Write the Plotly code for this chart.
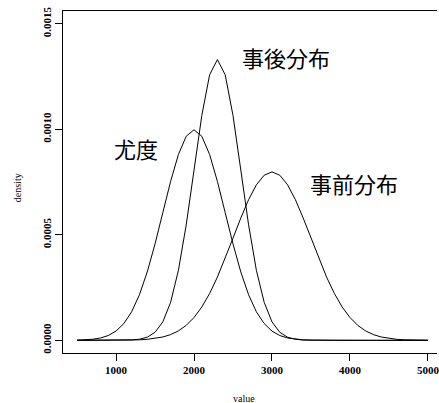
import plotly.graph_objects as go

# grid of values on the x axis
value = [500, 600, 700, 800, 900, 1000, 1100, 1200, 1300, 1400,
         1500, 1600, 1700, 1800, 1900, 2000, 2100, 2200, 2300, 2400,
         2500, 2600, 2700, 2800, 2900, 3000, 3100, 3200, 3300, 3400,
         3500, 3600, 3700, 3800, 3900, 4000, 4100, 4200, 4300, 4400,
         4500, 4600, 4700, 4800, 4900, 5000]

# likelihood (尤度)
likelihood = [0.88e-6, 2.18e-6, 5.07e-6, 11.1e-6, 22.7e-6, 43.8e-6, 79.4e-6, 135.0e-6, 215.7e-6, 323.8e-6,
              456.6e-6, 605.0e-6, 752.9e-6, 880.2e-6, 966.7e-6, 997.4e-6, 966.7e-6, 880.2e-6, 752.9e-6, 605.0e-6,
              456.6e-6, 323.8e-6, 215.7e-6, 135.0e-6, 79.4e-6, 43.8e-6, 22.7e-6, 11.1e-6, 5.07e-6, 2.18e-6,
              0.88e-6, 0.33e-6, 0.12e-6, 0.04e-6, 0.01e-6, 0.0, 0.0, 0.0, 0.0, 0.0,
              0.0, 0.0, 0.0, 0.0, 0.0, 0.0]

# prior (事前分布)
prior = [0.0, 0.01e-6, 0.02e-6, 0.05e-6, 0.12e-6, 0.27e-6, 0.58e-6, 1.22e-6, 2.46e-6, 4.77e-6,
         8.86e-6, 15.8e-6, 27.2e-6, 44.8e-6, 70.9e-6, 108.0e-6, 157.9e-6, 221.8e-6, 299.5e-6, 388.4e-6,
         484.0e-6, 579.4e-6, 666.5e-6, 736.6e-6, 782.1e-6, 797.9e-6, 782.1e-6, 736.6e-6, 666.5e-6, 579.4e-6,
         484.0e-6, 388.4e-6, 299.5e-6, 221.8e-6, 157.9e-6, 108.0e-6, 70.9e-6, 44.8e-6, 27.2e-6, 15.8e-6,
         8.86e-6, 4.77e-6, 2.46e-6, 1.22e-6, 0.58e-6, 0.27e-6]

# posterior (事後分布)
posterior = [0.0, 0.0, 0.0, 0.0, 0.02e-6, 0.11e-6, 0.45e-6, 1.60e-6, 5.14e-6, 14.8e-6,
             38.0e-6, 87.4e-6, 180.0e-6, 331.6e-6, 546.7e-6, 806.6e-6, 1064.8e-6, 1257.9e-6, 1329.8e-6, 1257.9e-6,
             1064.8e-6, 806.6e-6, 546.7e-6, 331.6e-6, 180.0e-6, 87.4e-6, 38.0e-6, 14.8e-6, 5.14e-6, 1.60e-6,
             0.45e-6, 0.11e-6, 0.02e-6, 0.0, 0.0, 0.0, 0.0, 0.0, 0.0, 0.0,
             0.0, 0.0, 0.0, 0.0, 0.0, 0.0]

x_ticks = [1000, 2000, 3000, 4000, 5000]
x_tick_labels = ["1000", "2000", "3000", "4000", "5000"]
y_ticks = [0.0, 0.0005, 0.0010, 0.0015]
y_tick_labels = ["0.0000", "0.0005", "0.0010", "0.0015"]

labels = ["尤度", "事後分布", "事前分布"]
label_x = [1256, 3185, 4054]
label_y = [0.00091, 0.00134, 0.000745]

fig = go.Figure()
for series in (likelihood, posterior, prior):
    fig.add_trace(go.Scatter(x=value, y=series, mode="lines",
                             line=dict(color="black", width=1),
                             showlegend=False, hoverinfo="skip"))

for t, lx, ly in zip(labels, label_x, label_y):
    fig.add_annotation(x=lx, y=ly, xref="x", yref="y", text=t, showarrow=False,
                       xanchor="center", yanchor="middle",
                       font=dict(family="Noto Sans CJK JP", size=22, color="black"))

fig.add_annotation(x=0.484, y=-0.1316, xref="paper", yref="paper", text="value",
                   showarrow=False, xanchor="center", yanchor="middle",
                   font=dict(family="Liberation Serif", size=10, color="black"))
fig.add_annotation(x=-0.1197, y=0.4825, xref="paper", yref="paper", text="density",
                   showarrow=False, xanchor="center", yanchor="middle", textangle=-90,
                   font=dict(family="Liberation Serif", size=10, color="black"))

tick_font = dict(family="Liberation Serif", size=11, color="black", weight="bold")

fig.update_layout(
    width=439, height=403,
    margin=dict(l=63, r=0, t=11, b=50),
    paper_bgcolor="white", plot_bgcolor="white",
    font=dict(family="Liberation Serif", color="black"),
    xaxis=dict(range=[320, 5116], tickvals=x_ticks, ticktext=x_tick_labels,
               showgrid=False, zeroline=False, showline=True, mirror=True,
               linecolor="black", linewidth=1, ticks="outside", ticklen=7,
               tickwidth=1, tickcolor="black", ticklabeloverflow="allow",
               tickfont=tick_font),
    yaxis=dict(range=[-0.00006, 0.00156], tickvals=y_ticks, ticktext=y_tick_labels,
               showgrid=False, zeroline=False, showline=True, mirror=False,
               linecolor="black", linewidth=1, ticks="outside", ticklen=7,
               tickwidth=1, tickcolor="black", tickangle=-90,
               tickfont=tick_font),
)

fig.write_html("out.html",
               config={"displayModeBar": False},
               post_script="document.body.style.margin='0';document.body.style.overflow='hidden';")
